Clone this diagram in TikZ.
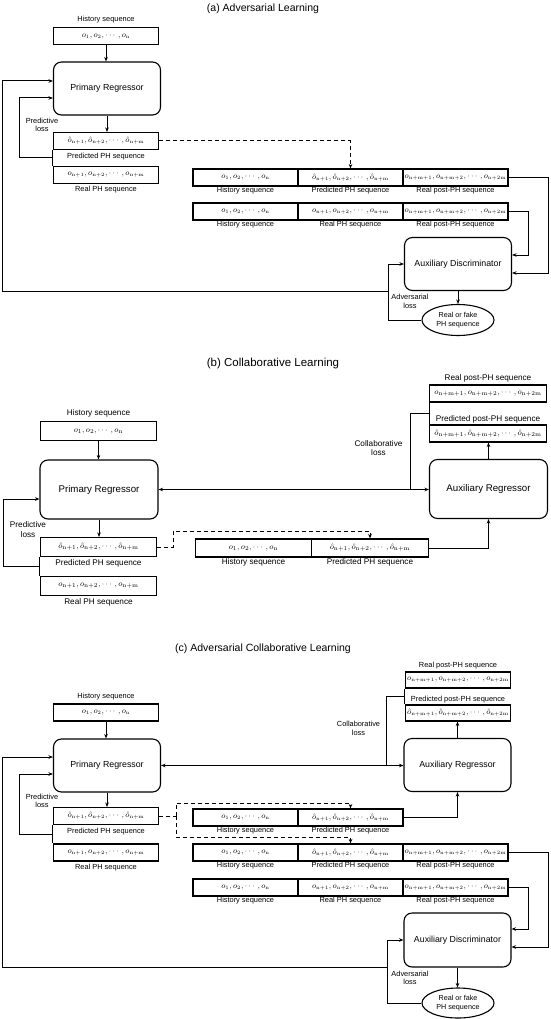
\documentclass[tikz,border=0pt]{standalone}
\usepackage{amsmath}
\usepackage[no-math]{fontspec}
\setmainfont{Liberation Sans}
\usetikzlibrary{arrows.meta,positioning,calc,shapes.geometric}

\newcommand{\hseq}{o_1, o_2, \cdots, o_{\mathrm{n}}}
\newcommand{\pseq}{\hat{o}_{\mathrm{n+1}}, \hat{o}_{\mathrm{n+2}}, \cdots, \hat{o}_{\mathrm{n+m}}}
\newcommand{\rseq}{o_{\mathrm{n+1}}, o_{\mathrm{n+2}}, \cdots, o_{\mathrm{n+m}}}
\newcommand{\rpost}{o_{\mathrm{n+m+1}}, o_{\mathrm{n+m+2}}, \cdots, o_{\mathrm{n+2m}}}
\newcommand{\ppost}{\hat{o}_{\mathrm{n+m+1}}, \hat{o}_{\mathrm{n+m+2}}, \cdots, \hat{o}_{\mathrm{n+2m}}}

\tikzset{
  >={Stealth[length=4.5pt,width=3.6pt]},
  seq/.style={rectangle, draw, line width=1.1pt, inner sep=0pt, minimum width=105pt, minimum height=17pt, font=\fontsize{7.6}{9}\selectfont},
  seqb/.style={seq, minimum width=116.5pt, minimum height=19pt, font=\fontsize{8.4}{10}\selectfont},
  reg/.style={rectangle, draw, rounded corners=8pt, line width=1.1pt, minimum width=107pt, minimum height=53pt, font=\fontsize{8.8}{10}\selectfont},
  regb/.style={reg, minimum width=118pt, minimum height=59pt, font=\fontsize{9.7}{11}\selectfont},
  verdict/.style={ellipse, draw, line width=1.1pt, minimum width=72pt, minimum height=31pt, inner sep=0pt, align=center, font=\fontsize{7.2}{8.6}\selectfont},
  lbl/.style={inner sep=0pt, align=center, font=\fontsize{7.4}{8.6}\selectfont},
  lblb/.style={lbl, font=\fontsize{8.2}{9.6}\selectfont},
  ttl/.style={inner sep=0pt, font=\fontsize{10.5}{12}\selectfont},
  ln/.style={line width=1pt},
  tr/.style={->, line width=1pt},
  dshl/.style={line width=1pt, dash pattern=on 4pt off 3pt},
  dsh/.style={dshl, ->}
}

\begin{document}
\begin{tikzpicture}[x=1pt, y=-1pt]
    \useasboundingbox (0,0) rectangle (550,1019);

    % (a) Adversarial Learning
    \node[ttl] (ttlA) at (263,9) {(a) Adversarial Learning};

    % Primary regressor column
    \node[seq] (histA) at (106,36) {$\hseq$};
    \node[lbl, above=3.5pt of histA] (histAl) {History sequence};
    \node[reg] (prA) at (107,88.5) {Primary Regressor};
    \node[seq] (predA) at (106,141) {$\pseq$};
    \node[lbl, below=3pt of predA] (predAl) {Predicted PH sequence};
    \node[seq] (realA) at (106,175) {$\rseq$};
    \node[lbl, below=2.3pt of realA] (realAl) {Real PH sequence};
    \node[lbl] (plossA) at (42,125) {Predictive\\loss};

    \draw[tr] (histA.south) -- (histA.south |- prA.north);
    \draw[tr] (prA.south) -- (prA.south |- predA.north);
    \draw[ln] (predA.south west) -- (realA.north west);
    \draw[tr] ($(predA.south west)!0.5!(realA.north west)$) -- ++(-33,0) |- ([yshift=-9.5pt]prA.west);

    % Fake and real sequences
    \foreach \r/\yy/\seqtxt/\seqname in {1/177.5/\pseq/Predicted PH sequence, 2/211.5/\rseq/Real PH sequence} {
        \node[seq] (hA\r) at (245.5,\yy) {$\hseq$};
        \node[seq] (mA\r) at (350.5,\yy) {$\seqtxt$};
        \node[seq] (pA\r) at (455.5,\yy) {$\rpost$};
        \node[lbl, below=0.5pt of hA\r] (hlA\r) {History sequence};
        \node[lbl, below=0.5pt of mA\r] (mlA\r) {\seqname};
        \node[lbl, below=0.5pt of pA\r] (plA\r) {Real post-PH sequence};
    }

    % Discriminator
    \node[reg] (adA) at (458,264) {Auxiliary Discriminator};
    \node[verdict] (ellA) at (458,320) {Real or fake\\PH sequence};
    \node[lbl] (alossA) at (410,301.5) {Adversarial\\loss};

    \draw[dsh] (predA.east) -| (mA1.north);
    \draw[tr] (pA1.east) -- ++(40,0) |- ([yshift=-9pt]adA.east);
    \draw[tr] (pA2.east) -- ++(20,0) |- ([yshift=9pt]adA.east);
    \draw[tr] (adA.south) -- (adA.south |- ellA.north);
    \draw[tr] (ellA.west) -| ([xshift=-15pt]adA.west) -- (adA.west);
    \draw[tr] ([xshift=-15pt]adA.south west) -- ++(-386,0) |- ([yshift=7.5pt]prA.west);

    % (b) Collaborative Learning
    \node[ttl, font=\fontsize{11.5}{13}\selectfont] (ttlB) at (273,364) {(b) Collaborative Learning};

    \node[seqb] (histB) at (98.5,431) {$\hseq$};
    \node[lblb, above=3.5pt of histB] (histBl) {History sequence};
    \node[regb] (prB) at (99,489.5) {Primary Regressor};
    \node[seqb] (predB) at (98.5,547) {$\pseq$};
    \node[lblb, below=2pt of predB] (predBl) {Predicted PH sequence};
    \node[seqb] (realB) at (98.5,586) {$\rseq$};
    \node[lblb, below=2pt of realB] (realBl) {Real PH sequence};
    \node[lblb] (plossB) at (28,529.5) {Predictive\\loss};

    \node[seqb, minimum height=18pt] (hB) at (253.5,548) {$\hseq$};
    \node[seqb, minimum height=18pt] (mB) at (370,548) {$\pseq$};
    \node[lblb, below=0.5pt of hB] (hlB) {History sequence};
    \node[lblb, below=0.5pt of mB] (mlB) {Predicted PH sequence};

    \node[regb] (arB) at (488.5,489) {Auxiliary Regressor};
    \node[seqb, minimum height=17pt] (ppB) at (488,433.5) {$\ppost$};
    \node[lblb, above=1.5pt of ppB] (ppBl) {Predicted post-PH sequence};
    \node[seqb, minimum height=17pt] (rpB) at (488,393.5) {$\rpost$};
    \node[lblb, above=2pt of rpB] (rpBl) {Real post-PH sequence};
    \node[lblb] (clossB) at (378.5,448) {Collaborative\\loss};

    \draw[tr] (histB.south) -- (histB.south |- prB.north);
    \draw[tr] (prB.south) -- (prB.south |- predB.north);
    \draw[ln] (predB.south west) -- (realB.north west);
    \draw[tr] ($(predB.south west)!0.5!(realB.north west)$) -- ++(-36,0) |- ([yshift=-9.5pt]prB.west);
    \draw[tr, <->] (prB.east) -- (prB.east -| arB.west);
    \draw[ln] (rpB.south west) -- (ppB.north west);
    \draw[ln] ($(rpB.south west)!0.5!(ppB.north west)$) -- ++(-19,0) coordinate (cbB) -- (cbB |- prB.east);
    \draw[tr] (arB.north) -- (arB.north |- ppB.south);
    \draw[tr] (mB.east) -| (arB.south);
    \draw[dsh] (predB.east) -- ++(16,0) -- ++(0,-16) -| (mB.north);

    % (c) Adversarial Collaborative Learning
    \node[ttl] (ttlC) at (263,649) {(c) Adversarial Collaborative Learning};

    \node[seq] (histC) at (106,712.5) {$\hseq$};
    \node[lbl, above=3.5pt of histC] (histCl) {History sequence};
    \node[reg] (prC) at (107,765.5) {Primary Regressor};
    \node[seq] (predC) at (106,816) {$\pseq$};
    \node[lbl, below=2.5pt of predC] (predCl) {Predicted PH sequence};
    \node[seq] (realC) at (106,852.5) {$\rseq$};
    \node[lbl, below=2.3pt of realC] (realCl) {Real PH sequence};
    \node[lbl] (plossC) at (42,801) {Predictive\\loss};

    \draw[tr] (histC.south) -- (histC.south |- prC.north);
    \draw[tr] (prC.south) -- (prC.south |- predC.north);
    \draw[ln] (predC.south west) -- (realC.north west);
    \draw[tr] ($(predC.south west)!0.5!(realC.north west)$) -- ++(-33,0) |- ([yshift=-8.5pt]prC.west);

    % Auxiliary regressor
    \node[reg] (arC) at (457.5,765) {Auxiliary Regressor};
    \node[seq, minimum height=16pt] (ppC) at (458,713) {$\ppost$};
    \node[lbl, above=1pt of ppC] (ppCl) {Predicted post-PH sequence};
    \node[seq, minimum height=16pt] (rpC) at (458,680) {$\rpost$};
    \node[lbl, above=2pt of rpC] (rpCl) {Real post-PH sequence};
    \node[lbl] (clossC) at (358.5,728.5) {Collaborative\\loss};

    \node[seq] (hC1) at (245.5,817.5) {$\hseq$};
    \node[seq] (mC1) at (350.5,817.5) {$\pseq$};
    \node[lbl, below=0.3pt of hC1] (hlC1) {History sequence};
    \node[lbl, below=0.3pt of mC1] (mlC1) {Predicted PH sequence};

    % Fake and real sequences
    \foreach \r/\yy/\seqtxt/\seqname in {2/852.5/\pseq/Predicted PH sequence, 3/887.5/\rseq/Real PH sequence} {
        \node[seq] (hC\r) at (245.5,\yy) {$\hseq$};
        \node[seq] (mC\r) at (350.5,\yy) {$\seqtxt$};
        \node[seq] (pC\r) at (455.5,\yy) {$\rpost$};
        \node[lbl, below=0.5pt of hC\r] (hlC\r) {History sequence};
        \node[lbl, below=0.5pt of mC\r] (mlC\r) {\seqname};
        \node[lbl, below=0.5pt of pC\r] (plC\r) {Real post-PH sequence};
    }

    % Discriminator
    \node[reg, minimum height=54pt] (adC) at (457.5,940) {Auxiliary Discriminator};
    \node[verdict, minimum height=30pt] (ellC) at (458,1003) {Real or fake\\PH sequence};
    \node[lbl] (alossC) at (410,978) {Adversarial\\loss};

    \draw[tr, <->] (prC.east) -- (prC.east -| arC.west);
    \draw[ln] (rpC.south west) -- (ppC.north west);
    \draw[ln] ($(rpC.south west)!0.5!(ppC.north west)$) -- ++(-18,0) coordinate (cbC) -- (cbC |- arC.west);
    \draw[tr] (arC.north) -- (arC.north |- ppC.south);
    \draw[tr] (mC1.east) -| (arC.south);

    \draw[dshl] (predC.east) -- ++(17,0) coordinate (dsC);
    \draw[dsh] (dsC) -- ++(0,-13) -| (mC1.north);
    \draw[dsh] (dsC) -- ++(0,21) -| (mC2.north);

    \draw[tr] (pC2.east) -- ++(40,0) |- ([yshift=-7pt]adC.east);
    \draw[tr] (pC3.east) -- ++(20,0) |- ([yshift=11pt]adC.east);
    \draw[tr] (adC.south) -- (adC.south |- ellC.north);
    \draw[tr] (ellC.west) -| ([xshift=-16pt]adC.west) -- (adC.west);
    \draw[tr] ([xshift=-16pt]adC.south west) -- ++(-385,0) |- ([yshift=8.5pt]prC.west);

\end{tikzpicture}
\end{document}
